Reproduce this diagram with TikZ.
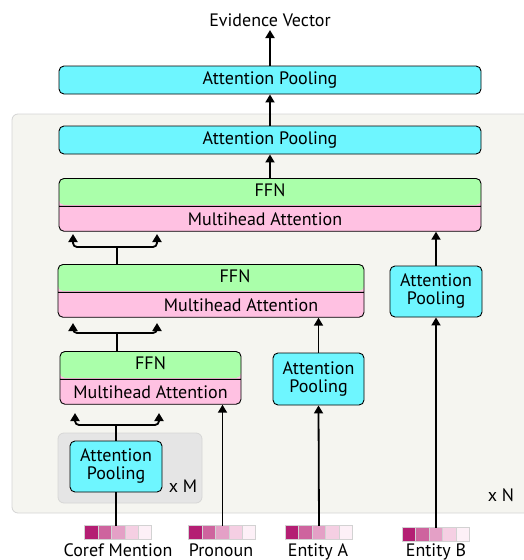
\documentclass[tikz,border=0pt]{standalone}
\usepackage{fontspec}
\setmainfont{PT Sans}
\usetikzlibrary{arrows.meta,shapes.multipart,positioning}
\definecolor{apcyan}{RGB}{110,246,255}
\definecolor{ffngreen}{RGB}{170,255,170}
\definecolor{mhapink}{RGB}{255,193,226}
\definecolor{panelbg}{RGB}{245,245,240}
\definecolor{panelline}{RGB}{212,212,212}
\definecolor{repbg}{RGB}{229,229,229}
\definecolor{repline}{RGB}{214,214,214}
\definecolor{cellone}{RGB}{180,30,115}
\definecolor{celltwo}{RGB}{206,100,158}
\definecolor{cellthree}{RGB}{228,160,198}
\definecolor{cellfour}{RGB}{245,207,227}
\definecolor{cellfive}{RGB}{253,240,247}
\definecolor{cellline}{RGB}{210,210,210}

\begin{document}
\begin{tikzpicture}[x=1pt,y=-1pt,font=\fontsize{18}{18}\selectfont,
pool/.style={draw,line width=0.9pt,rounded corners=5pt,fill=apcyan,align=center,inner sep=0pt},
block/.style={draw,line width=0.9pt,rounded corners=5pt,rectangle split,rectangle split parts=2,fill=mhapink,
  path picture={\fill[ffngreen] (path picture bounding box.north west) rectangle (path picture bounding box.east);},
  text height=12pt,text depth=4pt,inner ysep=5.5pt,inner xsep=0pt},
arr/.style={line width=1.8pt,-{Triangle[length=8pt,width=9pt]}},
fork/.style={line width=1.8pt,rounded corners=4pt,{Triangle[length=8pt,width=9pt]}-{Triangle[length=8pt,width=9pt]}},
stub/.style={line width=1.8pt},
bar/.style={minimum width=67pt,minimum height=14pt,inner sep=0pt},
lbl/.style={anchor=base}]
\useasboundingbox (0,0) rectangle (523,560);

% background panels
\draw[fill=panelbg,draw=panelline,line width=0.8pt,rounded corners=6pt] (12,114) rectangle (540,513);
\draw[fill=repbg,draw=repline,line width=0.8pt,rounded corners=6pt] (58,433) rectangle (202,503);

% boxes
\node (evid) at (270,20) {Evidence Vector};
\node[pool,minimum width=422pt,minimum height=28pt] (apTop) at (270,80) {Attention Pooling};
\node[pool,minimum width=422pt,minimum height=28pt] (apIn) at (270,140) {Attention Pooling};
\node[block,minimum width=422pt,anchor=north] (blkTop) at (270,178) {FFN\nodepart{two}\hspace*{-10pt}Multihead Attention};
\node[block,minimum width=306pt,anchor=north] (blkMid) at (211,264) {\hspace*{48pt}FFN\nodepart{two}\hspace*{60pt}Multihead Attention};
\node[block,minimum width=181pt,anchor=north] (blkBot) at (150.5,351) {FFN\nodepart{two}Multihead Attention};
\node[pool,minimum width=92pt,minimum height=51pt] (apB) at (436,291.5) {Attention\\Pooling};
\node[pool,minimum width=91pt,minimum height=52pt] (apA) at (318.5,379) {Attention\\Pooling};
\node[pool,minimum width=92pt,minimum height=51pt] (apC) at (116,466.5) {Attention\\Pooling};
\node (xM) at (183,486) {x M};
\node (xN) at (501,495) {x N};

% input vectors
\node[bar] (barC) at (118.5,533) {};
\node[bar] (barP) at (222.5,533) {};
\node[bar] (barA) at (319,533) {};
\node[bar] (barB) at (436,535) {};
\foreach \b in {barC,barP,barA,barB}
  \foreach \i/\c in {0/cellone,1/celltwo,2/cellthree,3/cellfour,4/cellfive}
    \draw[fill=\c,draw=cellline,line width=0.8pt] ([xshift=\i*13.4pt]\b.north west) rectangle ++(13.4,14);
\node[lbl] (lblC) at (118,556) {Coref Mention};
\node[lbl] (lblP) at (221,556) {Pronoun};
\node[lbl] (lblA) at (318,556) {Entity A};
\node[lbl] (lblB) at (436,556) {Entity B};

% connectors
\draw[arr] (apTop.north) -- (evid.south);
\draw[arr] (apIn.north) -- (apTop.south);
\draw[arr] (blkTop.north) -- (apIn.south);
\draw[arr] (apB.north) -- (apB.north |- blkTop.south);
\draw[arr] (barB.north) -- (apB.south);
\draw[arr] (apA.north) -- (apA.north |- blkMid.south);
\draw[arr] (barA.north) -- (apA.south);
\draw[arr] (barP.north) -- (barP.north |- blkBot.south);
\draw[stub] (barC.north -| apC.south) -- (apC.south);

% forks
\coordinate (f1l) at (73,234);
\coordinate (f1s) at (117,247);
\coordinate (f1r) at (157,234);
\draw[stub] (blkMid.north -| f1s) -- (f1s);
\draw[fork] (f1l) |- (f1s) -| (f1r);
\coordinate (f2l) at (73,323);
\coordinate (f2s) at (117,333);
\coordinate (f2r) at (157,323);
\draw[stub] (blkBot.north -| f2s) -- (f2s);
\draw[fork] (f2l) |- (f2s) -| (f2r);
\coordinate (f3l) at (75,413);
\coordinate (f3s) at (116,425);
\coordinate (f3r) at (159,413);
\draw[stub] (apC.north) -- (f3s);
\draw[fork] (f3l) |- (f3s) -| (f3r);
\end{tikzpicture}
\end{document}
